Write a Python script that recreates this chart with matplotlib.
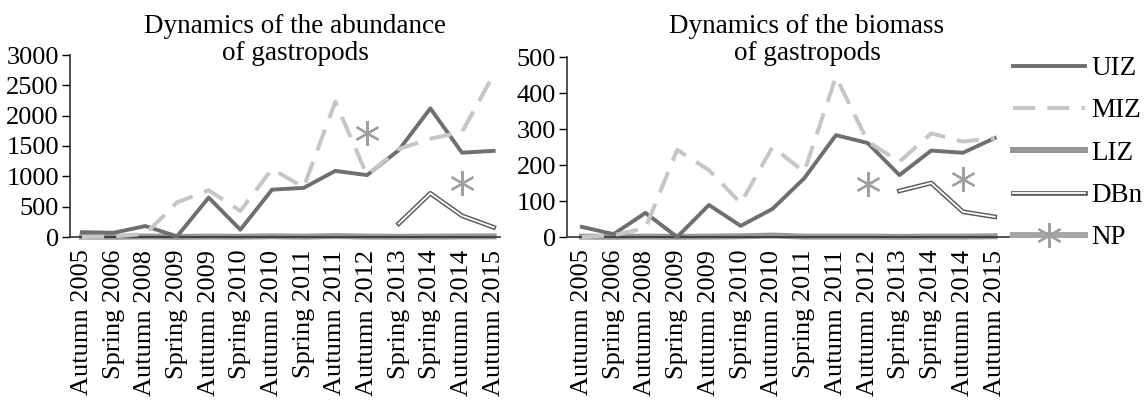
import matplotlib
matplotlib.use("Agg")
import numpy as np
import matplotlib.pyplot as plt
import matplotlib.patheffects as pe
from matplotlib.transforms import Affine2D

# season labels shared by both panels
seasons = ["Autumn 2005", "Spring 2006", "Autumn 2008", "Spring 2009", "Autumn 2009",
           "Spring 2010", "Autumn 2010", "Spring 2011", "Autumn 2011", "Autumn 2012",
           "Spring 2013", "Spring 2014", "Autumn 2014", "Autumn 2015"]

nan = np.nan

# abundance of gastropods
abund_uiz = [80, 70, 180, 10, 650, 120, 780, 810, 1090, 1020, 1430, 2120, 1390, 1420]
abund_miz = [0, 10, 50, 570, 770, 430, 1120, 820, 2230, 1020, 1450, 1620, 1730, 2680]
abund_liz = [5, 3, 8, 2, 6, 4, 12, 5, 15, 6, 4, 5, 8, 10]
abund_dbn = [nan, nan, nan, nan, nan, nan, nan, nan, nan, nan, 220, 720, 350, 160]
abund_np = [nan, nan, nan, nan, nan, nan, nan, nan, nan, 1720, nan, nan, 890, nan]

# biomass of gastropods
bio_uiz = [28, 8, 67, 0, 89, 31, 78, 163, 283, 261, 172, 240, 234, 275]
bio_miz = [0, 5, 25, 242, 186, 94, 250, 181, 445, 265, 209, 288, 265, 275]
bio_liz = [1, 0.5, 1, 0.5, 1, 2, 4, 1, 1, 1, 0.5, 1, 1, 2]
bio_dbn = [nan, nan, nan, nan, nan, nan, nan, nan, nan, nan, 128, 150, 70, 56]
bio_np = [nan, nan, nan, nan, nan, nan, nan, nan, nan, 147, nan, nan, 161, nan]

plt.rcParams['font.family'] = ['Liberation Serif', 'DejaVu Serif']
plt.rcParams['font.size'] = 19

W, H = 1147, 400
fig = plt.figure(figsize=(W / 100, H / 100), dpi=100)

star = (6, 2, 0)
# pixel coords measured from the top-left corner
top_px = Affine2D().scale(1, -1).translate(0, H)


def draw(ax, uiz, miz, liz, dbn, np_, ymax, step):
    x = np.arange(len(seasons))
    ax.plot(x, liz, color='#969696', lw=4.3, label='LIZ', clip_on=False, zorder=2)
    ax.plot(x, uiz, color='#6f6f6f', lw=2.8, label='UIZ', clip_on=False, zorder=3)
    ax.plot(x, miz, color='#c6c6c6', lw=2.9, dashes=(5.5, 3), label='MIZ', clip_on=False, zorder=3)
    ax.plot(x, dbn, color='white', lw=1.3, label='DBn', zorder=4,
            path_effects=[pe.Stroke(linewidth=3.4, foreground='#5a5a5a'), pe.Normal()])
    ax.plot(x, np_, color='#a6a6a6', lw=4.3, marker=star, ms=18, mew=1.6,
            mec='#a0a0a0', label='NP', zorder=4)
    ax.set_ylim(0, ymax)
    ax.set_yticks(np.arange(0, ymax + 1, step))
    ax.set_xticks(x)
    ax.set_xticklabels(seasons, rotation=90)
    ax.tick_params(axis='x', length=0, pad=9)
    ax.tick_params(axis='y', length=6, width=1, direction='out', pad=2)
    for s in ['top', 'right']:
        ax.spines[s].set_visible(False)
    for s in ['left', 'bottom']:
        ax.spines[s].set_color('#333333')
        ax.spines[s].set_linewidth(1.2)


# left panel
ax1 = fig.add_axes([70 / W, 1 - 237 / H, (500 - 70) / W, (237 - 55) / H])
draw(ax1, abund_uiz, abund_miz, abund_liz, abund_dbn, abund_np, 3000, 500)
ax1.set_xlim(-0.38, 13.2)
fig.text(295, 14, "Dynamics of the abundance\nof gastropods", transform=top_px,
         ha='center', va='top', fontsize=19.5, linespacing=1.1)

# right panel
ax2 = fig.add_axes([567 / W, 1 - 237 / H, (1009 - 567) / W, (237 - 57) / H])
draw(ax2, bio_uiz, bio_miz, bio_liz, bio_dbn, bio_np, 500, 100)
ax2.set_xlim(-0.47, 13.45)
fig.text(807, 14, "Dynamics of the biomass\nof gastropods", transform=top_px,
         ha='center', va='top', fontsize=19.5, linespacing=1.1)

# legend to the right, in the reference order
handles, labels = ax2.get_legend_handles_labels()
order = ['UIZ', 'MIZ', 'LIZ', 'DBn', 'NP']
hmap = dict(zip(labels, handles))
fig.legend([hmap[k] for k in order], order, loc='upper left',
           bbox_to_anchor=(1013 / W, 1 - 56 / H), frameon=False,
           handlelength=2.65, handletextpad=0.25, labelspacing=0.64,
           borderpad=0, borderaxespad=0, fontsize=19.5)

fig.savefig("out.png", dpi=100)
